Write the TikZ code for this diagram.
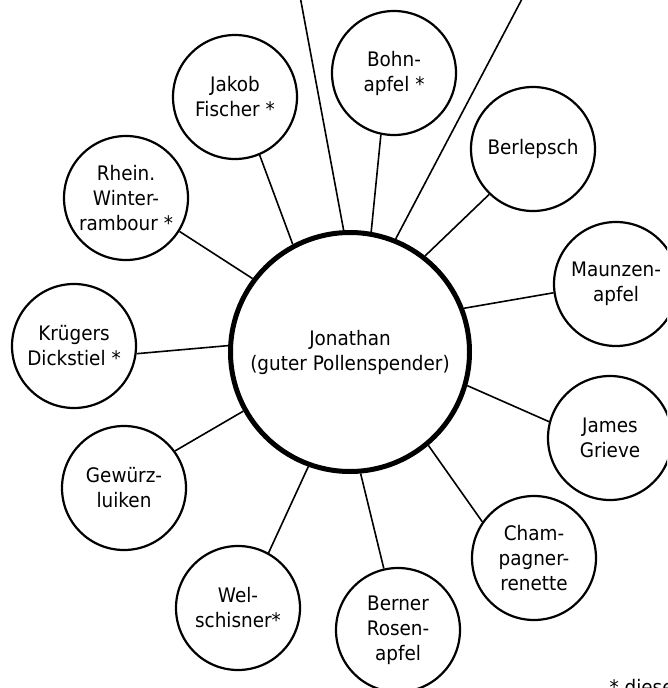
\documentclass[tikz,border=0pt]{standalone}
\usepackage{fontspec}
\setmainfont{DejaVu Sans}[FakeStretch=0.92]

\begin{document}
\begin{tikzpicture}[x=1pt,y=-1pt,
  sorte/.style={draw, circle, line width=2.2pt, minimum size=124pt, inner sep=0pt, align=center, font=\fontsize{20}{25}\selectfont},
  spender/.style={sorte, line width=5pt, minimum size=239pt},
  link/.style={line width=1.6pt}]
\useasboundingbox (0,0) rectangle (667,688);
\clip (0,0) rectangle (667,688);

\node [spender] (jonathan) at (350,352) {Jonathan\\(guter Pollenspender)};

\node [sorte] (jakob) at (235,97) {Jakob\\Fischer *};
\node [sorte] (bohn) at (394,73) {Bohn-\\apfel *};
\node [sorte] (berlepsch) at (533,149) {Berlepsch};
\node [sorte] (rhein) at (126,198) {Rhein.\\Winter-\\rambour *};
\node [sorte] (maunzen) at (616,284) {Maunzen-\\apfel};
\node [sorte] (kruegers) at (74,346) {Krügers\\Dickstiel *};
\node [sorte] (gewuerz) at (124,488) {Gewürz-\\luiken};
\node [sorte] (james) at (610,438) {James\\Grieve};
\node [sorte] (champagner) at (534,558) {Cham-\\pagner-\\renette};
\node [sorte] (berner) at (398,630) {Berner\\Rosen-\\apfel};
\node [sorte] (welschisner) at (238,608) {Wel-\\schisner*};

\draw [link] (jakob.-67) -- (jonathan.118);
\draw [link] (bohn.-102) -- (jonathan.80);
\draw [link] (berlepsch.-134) -- (jonathan.52);
\draw [link] (rhein.-32) -- (jonathan.143);
\draw [link] (maunzen.-172) -- (jonathan.21);
\draw [link] (kruegers.-7) -- (jonathan.177);
\draw [link] (gewuerz.36) -- (jonathan.-151);
\draw [link] (james.165) -- (jonathan.-16);
\draw [link] (champagner.145) -- (jonathan.-50);
\draw [link] (berner.103) -- (jonathan.-85);
\draw [link] (welschisner.61) -- (jonathan.-110);

% weiter oben, ausserhalb des Bildes
\coordinate (obenA) at (297,-20);
\coordinate (obenB) at (532,-20);
\draw [link] (jonathan.93) -- (obenA);
\draw [link] (jonathan.68) -- (obenB);

\node [anchor=base west, font=\fontsize{20}{25}\selectfont] (fussnote) at (606,694) {* diese};
\end{tikzpicture}
\end{document}
